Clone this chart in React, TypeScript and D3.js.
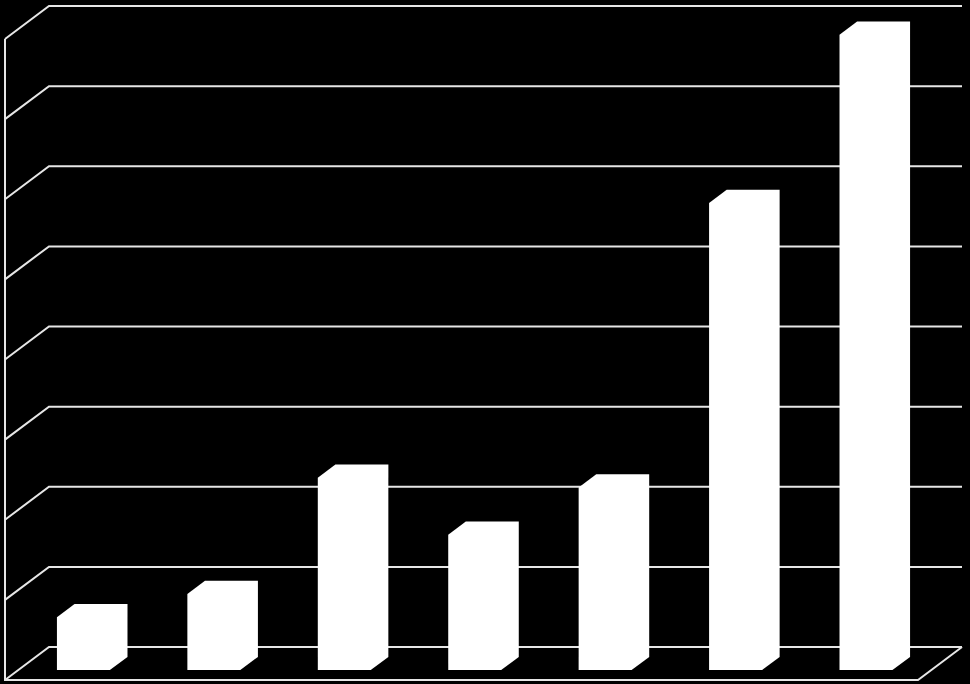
import { scaleBand, scaleLinear, range } from "d3";
import type { ReactElement } from "react";

const WIDTH = 970;
const HEIGHT = 684;

// Values, in gridline units (no axis labels shown).
const categories = ["1", "2", "3", "4", "5", "6", "7"];
const values = [0.66, 0.95, 2.4, 1.69, 2.28, 5.83, 7.93];
const tickValues = range(0, 9);

// Front plane of the floor, and the oblique depth offset of the back wall.
const FRONT_LEFT = 5;
const FRONT_RIGHT = 918;
const FRONT_BOTTOM = 680;
const FRONT_TOP = 39;
const DEPTH_X = 44;
const DEPTH_Y = 33;
const BAR_D0 = 0.3;
const BAR_D1 = 0.7;
const LINE = "#e6e6e6";

const project = (x: number, y: number, d: number): [number, number] => [
  x + DEPTH_X * d,
  y - DEPTH_Y * d,
];

const pts = (list: Array<[number, number]>): string =>
  list.map((p) => `${p[0]},${p[1]}`).join(" ");

export default function App(): ReactElement {
  const x = scaleBand<string>()
    .domain(categories)
    .range([FRONT_LEFT, FRONT_RIGHT])
    .paddingInner(0.594)
    .paddingOuter(0.297);

  const y = scaleLinear().domain([0, 8]).range([FRONT_BOTTOM, FRONT_TOP]);

  return (
    <svg
      width={WIDTH}
      height={HEIGHT}
      viewBox={`0 0 ${WIDTH} ${HEIGHT}`}
      style={{ position: "fixed", left: 0, top: 0, display: "block" }}
    >
      <rect x={0} y={0} width={WIDTH} height={HEIGHT} fill="#000" />

      {/* Walls: back-wall gridlines plus their diagonal on the left wall */}
      {tickValues.map((t) => {
        const [bx0, by] = project(FRONT_LEFT, y(t), 1);
        const [bx1] = project(FRONT_RIGHT, y(t), 1);
        return (
          <polyline
            key={`grid-${t}`}
            points={pts([[FRONT_LEFT, y(t)], [bx0, by], [bx1, by]])}
            fill="none"
            stroke={LINE}
            strokeWidth={2}
          />
        );
      })}

      {/* Left axis and front floor edge */}
      <polyline
        points={pts([
          [FRONT_LEFT, y(8)],
          [FRONT_LEFT, y(0)],
          [FRONT_RIGHT, y(0)],
          project(FRONT_RIGHT, y(0), 1),
        ])}
        fill="none"
        stroke={LINE}
        strokeWidth={2}
      />

      {/* Bars: all faces are plain white, so draw the box silhouette */}
      {categories.map((c, i) => {
        const x0 = x(c) ?? 0;
        const x1 = x0 + x.bandwidth();
        const base = y(0);
        const top = y(values[i]);
        const outline = [
          project(x0, base, BAR_D0),
          project(x0, top, BAR_D0),
          project(x0, top, BAR_D1),
          project(x1, top, BAR_D1),
          project(x1, base, BAR_D1),
          project(x1, base, BAR_D0),
        ] as Array<[number, number]>;
        return <polygon key={c} points={pts(outline)} fill="#fff" />;
      })}
    </svg>
  );
}
